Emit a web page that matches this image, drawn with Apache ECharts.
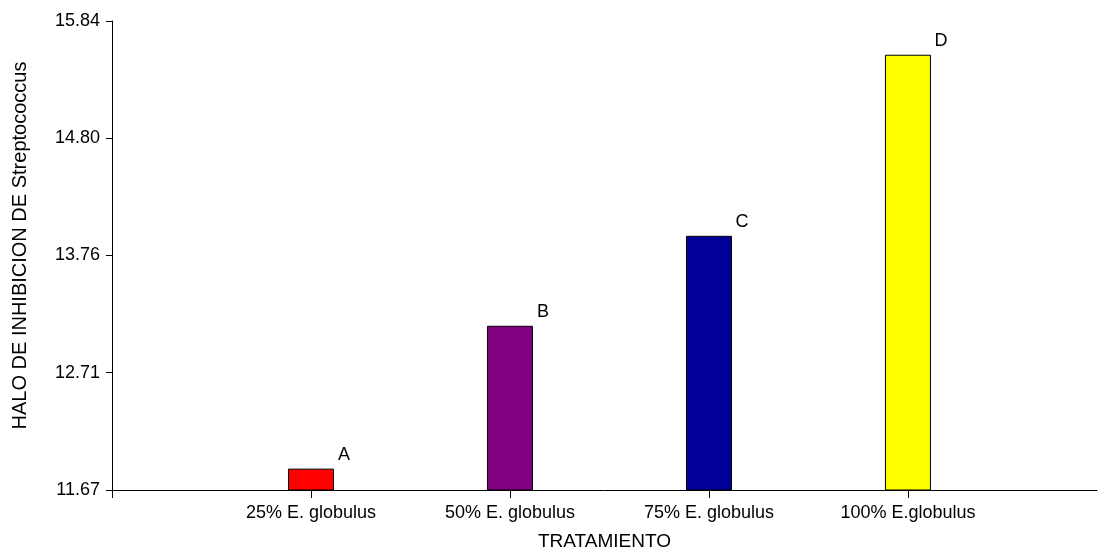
<!DOCTYPE html>
<html>
<head>
<meta charset="utf-8">
<title>Halo de inhibición</title>
<script src="https://cdn.jsdelivr.net/npm/echarts@6/dist/echarts.min.js"></script>
<style>
  html, body { margin: 0; padding: 0; background: #fff; }
  #chart { width: 1098px; height: 551px; }
</style>
</head>
<body>
<div id="chart"></div>
<script>
// Treatments, mean inhibition halo and significance letters
const categories = ['25% E. globulus', '50% E. globulus', '75% E. globulus', '100% E.globulus'];
const haloValues = [11.86, 13.13, 13.93, 15.54];
const groupLetters = ['A', 'B', 'C', 'D'];
const barColors = ['#ff0000', '#800080', '#000099', '#ffff00'];

// Y axis ticks (even steps between 11.67 and 15.84) and their printed labels
const yTickValues = [11.67, 12.7125, 13.755, 14.7975, 15.84];
const yTickLabels = ['11.67', '12.71', '13.76', '14.80', '15.84'];

// Treatments sit at positions 1..4 along the horizontal axis
const positions = categories.map((_, i) => i + 1);

const FONT = 'Liberation Sans, Arial, sans-serif';

const chart = echarts.init(document.getElementById('chart'), null, { renderer: 'canvas' });

chart.setOption({
  animation: false,
  backgroundColor: '#ffffff',
  grid: { left: 112, right: 1, top: 21, bottom: 61, containLabel: false, outerBoundsMode: 'none' },
  xAxis: {
    type: 'value',
    min: 0,
    max: 4.95,
    name: 'TRATAMIENTO',
    nameLocation: 'middle',
    nameGap: 42,
    nameTextStyle: { color: '#000', fontSize: 19, fontFamily: FONT },
    axisLine: { show: true, lineStyle: { color: '#000', width: 1 } },
    axisTick: {
      show: true,
      length: 8,
      customValues: [0].concat(positions),
      lineStyle: { color: '#000', width: 1 }
    },
    axisLabel: {
      customValues: positions,
      margin: 14,
      color: '#000',
      fontSize: 18,
      fontFamily: FONT,
      formatter: v => categories[Math.round(v) - 1] || ''
    },
    splitLine: { show: false }
  },
  yAxis: {
    type: 'value',
    min: 11.67,
    max: 15.84,
    name: 'HALO DE INHIBICION DE Streptococcus',
    nameLocation: 'middle',
    nameGap: 82,
    nameTextStyle: { color: '#000', fontSize: 20, fontFamily: FONT, padding: [0, 0, 0, 20] },
    axisLine: { show: true, lineStyle: { color: '#000', width: 1 } },
    axisTick: {
      show: true,
      length: 6,
      customValues: yTickValues,
      lineStyle: { color: '#000', width: 1 }
    },
    axisLabel: {
      customValues: yTickValues,
      margin: 12,
      color: '#000',
      fontSize: 18,
      fontFamily: FONT,
      formatter: v => {
        const i = yTickValues.findIndex(t => Math.abs(t - v) < 1e-6);
        return i >= 0 ? yTickLabels[i] : '';
      }
    },
    splitLine: { show: false }
  },
  series: [{
    type: 'bar',
    barWidth: 46,
    data: haloValues.map((v, i) => ({
      value: [positions[i], v],
      itemStyle: { color: barColors[i], borderColor: '#000', borderWidth: 1 },
      label: {
        show: true,
        position: 'top',
        distance: 5,
        offset: [33, 0],
        formatter: groupLetters[i],
        color: '#000',
        fontSize: 18,
        fontFamily: FONT
      }
    }))
  }]
});
</script>
</body>
</html>
